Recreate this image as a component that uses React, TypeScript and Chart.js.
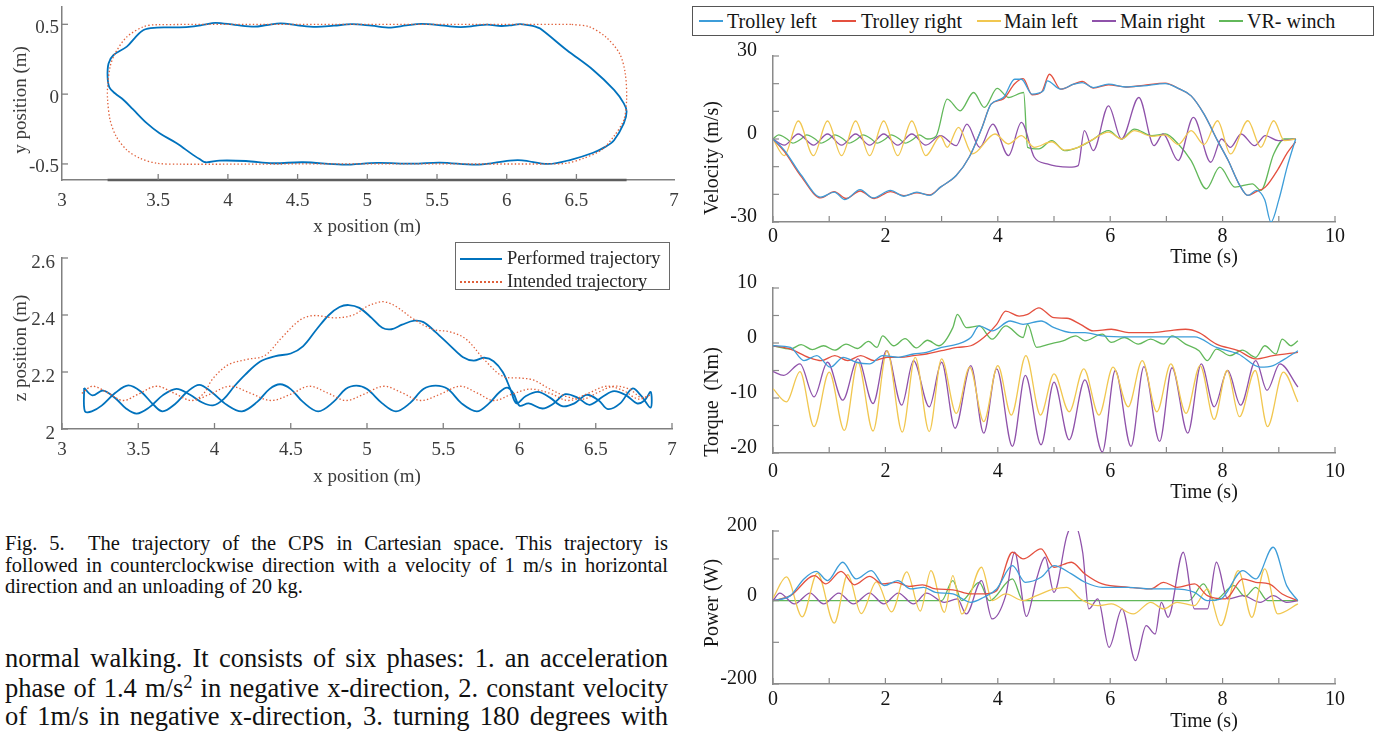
import React, { useEffect, useRef } from 'react';
import { Chart, registerables } from 'chart.js';

Chart.register(...registerables);

type Pt = [number, number];

// ---------------- x–y trajectory (top left) ----------------
const xyPerformed: Pt[] = [
  [6.2, 0.485], [6.1, 0.502], [6.02, 0.492], [5.96, 0.488], [5.86, 0.498], [5.78, 0.49], [5.67, 0.48],
  [5.55, 0.49], [5.39, 0.503], [5.28, 0.492], [5.17, 0.477], [5.03, 0.49], [4.89, 0.501], [4.76, 0.49],
  [4.63, 0.482], [4.5, 0.493], [4.38, 0.507], [4.28, 0.495], [4.19, 0.483], [4.05, 0.496], [3.91, 0.511],
  [3.83, 0.497], [3.72, 0.482], [3.58, 0.478], [3.49, 0.476], [3.395, 0.459], [3.33, 0.4], [3.275, 0.34],
  [3.18, 0.28], [3.144, 0.22], [3.137, 0.125], [3.15, 0.049], [3.19, 0.006], [3.25, -0.04], [3.32, -0.11],
  [3.42, -0.21], [3.51, -0.28], [3.63, -0.35], [3.75, -0.435], [3.8, -0.467], [3.84, -0.488], [3.94, -0.476],
  [4.13, -0.479], [4.32, -0.495], [4.54, -0.488], [4.82, -0.505], [5.07, -0.493], [5.33, -0.498],
  [5.52, -0.49], [5.8, -0.505], [6.02, -0.476], [6.11, -0.474], [6.3, -0.5], [6.46, -0.47], [6.62, -0.42],
  [6.71, -0.376], [6.77, -0.33], [6.84, -0.21], [6.86, -0.125], [6.84, -0.066], [6.77, 0.03], [6.62, 0.173],
  [6.43, 0.316], [6.24, 0.47], [6.2, 0.485],
];
const xyIntended: Pt[] = [
  [6.46, 0.5], [5.5, 0.5], [4.5, 0.5], [3.49, 0.497], [3.395, 0.483], [3.275, 0.41], [3.19, 0.29],
  [3.155, 0.196], [3.137, 0.053], [3.137, -0.04], [3.155, -0.185], [3.2, -0.305], [3.275, -0.4],
  [3.37, -0.46], [3.49, -0.495], [3.66, -0.502], [4.5, -0.5], [5.5, -0.5], [6.3, -0.5], [6.43, -0.495],
  [6.55, -0.46], [6.68, -0.4], [6.77, -0.3], [6.84, -0.185], [6.86, -0.04], [6.85, 0.15], [6.81, 0.29],
  [6.71, 0.41], [6.59, 0.483], [6.46, 0.5],
];
const xyXRange: Pt = [2.81, 7.2];
const xyYRange: Pt = [-0.615, 0.624];
const xyXTicks = [2.81, 3.5, 4, 4.5, 5, 5.5, 6, 6.5, 7.2];
const xyXLabels = ['3', '3.5', '4', '4.5', '5', '5.5', '6', '6.5', '7'];
const xyYTicks = [-0.5, 0, 0.5];
const xyYLabels = ['-0.5', '0', '0.5'];

// ---------------- x–z trajectory (bottom left) ----------------
const xzPerformedHumpPass: Pt[] = [
  [3.145, 2.144], [3.2, 2.118], [3.27, 2.135], [3.35, 2.108], [3.42, 2.072], [3.49, 2.054], [3.57, 2.075],
  [3.66, 2.118], [3.75, 2.141], [3.84, 2.12], [3.92, 2.093], [3.99, 2.083], [4.06, 2.105], [4.13, 2.15],
  [4.2, 2.19], [4.3, 2.237], [4.4, 2.256], [4.5, 2.265], [4.58, 2.29], [4.67, 2.35], [4.75, 2.4],
  [4.82, 2.428], [4.88, 2.435], [4.95, 2.425], [5.03, 2.39], [5.1, 2.355], [5.16, 2.35], [5.23, 2.366],
  [5.31, 2.38], [5.37, 2.375], [5.45, 2.34], [5.55, 2.29], [5.63, 2.252], [5.7, 2.24], [5.77, 2.25],
  [5.83, 2.238], [5.89, 2.2], [5.94, 2.14], [5.98, 2.09], [6.04, 2.115], [6.12, 2.13], [6.2, 2.11],
  [6.28, 2.08], [6.36, 2.09], [6.44, 2.12], [6.52, 2.1], [6.58, 2.07], [6.66, 2.09], [6.74, 2.142],
  [6.8, 2.115], [6.86, 2.075],
];
const xzPerformedFlatPass: Pt[] = [
  [3.15, 2.062], [3.195, 2.062], [3.26, 2.082], [3.35, 2.127], [3.435, 2.153], [3.52, 2.13], [3.6, 2.085],
  [3.66, 2.062], [3.74, 2.087], [3.82, 2.13], [3.9, 2.155], [3.98, 2.13], [4.08, 2.085], [4.18, 2.062],
  [4.28, 2.095], [4.36, 2.14], [4.43, 2.157], [4.5, 2.14], [4.58, 2.095], [4.68, 2.062], [4.78, 2.095],
  [4.86, 2.14], [4.93, 2.152], [5.0, 2.14], [5.1, 2.09], [5.19, 2.062], [5.28, 2.09], [5.37, 2.14],
  [5.45, 2.152], [5.53, 2.14], [5.62, 2.09], [5.72, 2.062], [5.8, 2.09], [5.87, 2.13], [5.92, 2.145],
  [5.96, 2.125], [6.0, 2.082], [6.06, 2.09], [6.15, 2.072], [6.22, 2.088], [6.3, 2.122], [6.38, 2.11],
  [6.46, 2.085], [6.55, 2.115], [6.62, 2.133], [6.7, 2.118], [6.77, 2.09], [6.82, 2.1], [6.86, 2.13],
];
const xzIntendedHumpPass: Pt[] = [
  [3.13, 2.125], [3.2, 2.15], [3.3, 2.127], [3.4, 2.1], [3.5, 2.122], [3.62, 2.15], [3.73, 2.127],
  [3.85, 2.1], [3.93, 2.125], [3.98, 2.17], [4.04, 2.205], [4.1, 2.228], [4.21, 2.244], [4.33, 2.258],
  [4.44, 2.32], [4.56, 2.382], [4.65, 2.398], [4.79, 2.39], [4.91, 2.4], [5.0, 2.43], [5.07, 2.444],
  [5.12, 2.446], [5.19, 2.43], [5.31, 2.384], [5.43, 2.35], [5.55, 2.34], [5.65, 2.315], [5.77, 2.243],
  [5.89, 2.185], [6.0, 2.179], [6.09, 2.172], [6.2, 2.14], [6.32, 2.112], [6.42, 2.105], [6.52, 2.13],
  [6.62, 2.15], [6.72, 2.14], [6.8, 2.11], [6.86, 2.12],
];
const xzIntendedFlatPass: Pt[] = [
  [3.13, 2.125], [3.2, 2.15], [3.3, 2.127], [3.4, 2.1], [3.5, 2.122], [3.62, 2.15], [3.73, 2.127],
  [3.85, 2.1], [3.97, 2.122], [4.1, 2.15], [4.23, 2.127], [4.37, 2.1], [4.5, 2.122], [4.62, 2.15],
  [4.74, 2.127], [4.86, 2.1], [4.98, 2.122], [5.11, 2.15], [5.23, 2.127], [5.35, 2.1], [5.48, 2.122],
  [5.61, 2.15], [5.72, 2.127], [5.83, 2.1], [5.95, 2.122], [6.07, 2.14], [6.2, 2.125], [6.32, 2.1],
  [6.45, 2.125], [6.57, 2.15], [6.68, 2.135], [6.78, 2.105], [6.86, 2.12],
];
const xzXTicks = [3, 3.5, 4, 4.5, 5, 5.5, 6, 6.5, 7];
const xzXLabels = ['3', '3.5', '4', '4.5', '5', '5.5', '6', '6.5', '7'];
const xzYTicks = [2, 2.2, 2.4, 2.6];
const xzYLabels = ['2', '2.2', '2.4', '2.6'];
const trajectoryNames = ['Performed trajectory', 'Intended trajectory'];

// ---------------- winch time series (right column) ----------------
const seriesNames = ['Trolley left', 'Trolley right', 'Main left', 'Main right', 'VR- winch'];
const seriesColors = ['#3d9dd9', '#e4503f', '#f1c750', '#8f52aa', '#62b85a'];
const timeTicks = [0, 1, 2, 3, 4, 5, 6, 7, 8, 9, 10];
const timeLabels = ['0', '', '2', '', '4', '', '6', '', '8', '', '10'];

const velTrolleyLeft: Pt[] = [
  [0, 0], [0.2, -4], [0.5, -13], [0.85, -21], [1.09, -19.2], [1.28, -21.9], [1.55, -18.3], [1.78, -21.3],
  [2.09, -18.6], [2.33, -20.7], [2.56, -19.2], [2.79, -20.4], [2.98, -17.4], [3.26, -13.2], [3.49, -6.6],
  [3.72, 4.2], [3.88, 12.6], [4.1, 15], [4.3, 21.6], [4.42, 21.6], [4.61, 16.2], [4.81, 17.4], [4.88, 21],
  [5.12, 18], [5.35, 19.8], [5.5, 20.4], [5.7, 18.6], [5.97, 19.8], [6.28, 18.8], [6.59, 19.2], [6.98, 20],
  [7.21, 18.3], [7.44, 15.6], [7.67, 9], [7.91, -0.6], [8.1, -7.8], [8.29, -16.2], [8.45, -20.4],
  [8.6, -18.6], [8.75, -22], [8.86, -30], [9.0, -22], [9.15, -10], [9.3, 0],
];
const velTrolleyRight: Pt[] = [
  [0, 0], [0.2, -4.5], [0.5, -13.5], [0.85, -21.3], [1.09, -19], [1.3, -21.5], [1.55, -18.8], [1.8, -21.5],
  [2.09, -19], [2.33, -20.5], [2.56, -19.5], [2.79, -20.2], [2.98, -17.4], [3.26, -13.2], [3.49, -6.6],
  [3.72, 4.2], [3.88, 12.6], [4.1, 14.5], [4.3, 20], [4.45, 21.8], [4.61, 16], [4.78, 17], [4.92, 23.4],
  [5.12, 18], [5.35, 19.8], [5.5, 20.8], [5.7, 18.4], [5.97, 19.6], [6.28, 18.8], [6.59, 19.4], [6.98, 20.2],
  [7.21, 18.3], [7.44, 15.6], [7.67, 9], [7.91, -0.6], [8.1, -7.8], [8.29, -16.2], [8.45, -20.4],
  [8.6, -19], [8.76, -17.4], [8.99, -10.8], [9.15, -5], [9.3, -1],
];
const velMainLeft: Pt[] = [
  [0, 0], [0.2, -6], [0.45, 6.5], [0.72, -6], [0.97, 6.5], [1.22, -6], [1.47, 6.5], [1.72, -6], [1.97, 6.5],
  [2.22, -6], [2.47, 6.5], [2.72, -6], [2.98, 1], [3.1, -3], [3.3, 4.2], [3.55, -5.4], [3.95, 1.8],
  [4.19, -1.8], [4.42, 1.2], [4.65, -3], [4.96, -1], [5.19, -4], [5.43, -3], [5.66, -0.5], [5.97, 2.5],
  [6.2, 0], [6.43, 3], [6.74, 1], [6.98, 1.5], [7.21, -2], [7.44, 3], [7.67, -2], [7.91, 6.6], [8.14, -5.4],
  [8.45, 6.6], [8.68, -3], [8.91, 6.6], [9.1, -0.6], [9.3, 0],
];
const velMainRight: Pt[] = [
  [0, 0], [0.2, -2.2], [0.45, 1.8], [0.72, -2.2], [0.97, 1.8], [1.22, -2.2], [1.47, 1.8], [1.72, -2.2],
  [1.97, 1.8], [2.22, -2.2], [2.47, 1.8], [2.72, -2.2], [2.98, 1.2], [3.26, -2.4], [3.45, 5.4], [3.68, -3],
  [3.91, 5.4], [4.19, -6], [4.42, 6], [4.65, -6.6], [4.88, -9], [5.04, -9.8], [5.27, -10.2], [5.43, -9.6],
  [5.54, 3], [5.7, -4.2], [5.97, 12], [6.2, 0], [6.51, 15], [6.78, -2.4], [6.94, 1.8], [7.21, -7.8],
  [7.48, 7.8], [7.79, -8.4], [7.98, 0], [8.14, -3], [8.33, 1.8], [8.57, -2.4], [8.76, 1.2], [8.99, -0.6],
  [9.3, 0],
];
const velWinch: Pt[] = [
  [0, 0], [0.1, 1.5], [0.25, 0], [0.35, -1.5], [0.5, 0], [0.6, 1.5], [0.75, 0], [0.85, -1.5], [1.0, 0],
  [1.1, 1.5], [1.25, 0], [1.35, -1.5], [1.5, 0], [1.6, 1.5], [1.75, 0], [1.85, -1.5], [2.0, 0], [2.1, 1.5],
  [2.25, 0], [2.35, -1.5], [2.5, 0], [2.6, 1.5], [2.75, 0], [2.9, 1], [3.1, 14.4], [3.33, 10.2],
  [3.57, 16.8], [3.76, 11.4], [3.99, 18.3], [4.19, 15], [4.46, 16.8], [4.53, -3], [4.73, -3.6],
  [4.96, -0.6], [5.19, -4.2], [5.43, -3], [5.66, -0.6], [5.97, 3], [6.2, 0], [6.43, 3.6], [6.74, 1.2],
  [6.98, 1.8], [7.21, -1.8], [7.44, -7.8], [7.71, -18], [7.95, -10.2], [8.22, -17.4], [8.53, -16.2],
  [8.68, -18.6], [8.91, -5.4], [9.1, 0], [9.3, 0],
];
const velocityTicks = [-30, -20, -10, 0, 10, 20, 30];
const velocityLabels = ['-30', '', '', '0', '', '', '30'];

const torTrolleyLeft: Pt[] = [
  [0, -0.5], [0.31, -0.8], [0.55, -3.2], [0.78, -2.3], [1.02, -4.4], [1.25, -2.6], [1.48, -3.5],
  [1.72, -3.8], [1.95, -2.3], [2.23, -2.6], [2.5, -2], [2.73, -1.7], [3.0, -0.8], [3.28, -0.2], [3.52, 1],
  [3.67, 3.1], [3.9, 2.2], [4.22, 4], [4.45, 3.4], [4.77, 4], [5.0, 2.8], [5.31, 1.9], [5.55, 1.9],
  [5.86, 1.3], [6.33, 1.1], [6.72, 1.1], [7.1, 1.1], [7.5, 1.1], [7.89, -0.8], [8.28, -2], [8.67, -4.4],
  [8.9, -4.1], [9.06, -3.2], [9.34, -1.4],
];
const torTrolleyRight: Pt[] = [
  [0, -0.5], [0.31, -1.1], [0.63, -2.6], [0.86, -3.2], [1.1, -2.3], [1.33, -3.2], [1.56, -2.3], [1.8, -3.2],
  [2.03, -2.6], [2.27, -2.6], [2.5, -2.3], [2.73, -2], [3.0, -1.4], [3.28, -0.8], [3.52, -0.5], [3.75, 1],
  [3.98, 3.4], [4.14, 5.8], [4.38, 4.9], [4.53, 5.2], [4.73, 6.4], [5.0, 4.6], [5.23, 4.5], [5.47, 3.4],
  [5.7, 2.2], [6.02, 2.5], [6.33, 1.9], [6.72, 1.9], [7.03, 2.2], [7.34, 2.5], [7.58, 1.9], [7.89, -0.2],
  [8.28, -1.4], [8.59, -2.9], [8.9, -2.3], [9.34, -1.7],
];
const torMainLeft: Pt[] = [
  [0, -8.3], [0.24, -10.7], [0.48, -5.2], [0.73, -15.2], [1.0, -5.3], [1.27, -15.9], [1.51, -3.5],
  [1.78, -16], [2.03, -1.4], [2.3, -16.2], [2.53, -2.6], [2.78, -16.1], [3.0, -2.9], [3.26, -12.8],
  [3.5, -4.4], [3.75, -14.3], [4.0, -4.1], [4.24, -13.1], [4.5, -2.3], [4.76, -13.1], [5.0, -5.6],
  [5.27, -12.5], [5.53, -4.7], [5.8, -13.1], [6.05, -4.4], [6.32, -11.6], [6.57, -3.2], [6.83, -12.5],
  [7.08, -3.8], [7.35, -12.8], [7.6, -4.1], [7.85, -13.9], [8.08, -5], [8.3, -13.4], [8.58, -5],
  [8.8, -15.2], [9.08, -5.3], [9.34, -10.7],
];
const torMainRight: Pt[] = [
  [0, -5.2], [0.19, -5.9], [0.48, -3.8], [0.73, -9.8], [0.97, -3.5], [1.24, -10.4], [1.51, -2.9],
  [1.78, -11], [2.02, -1.4], [2.29, -11.3], [2.5, -3.2], [2.78, -11.6], [3.0, -3.5], [3.24, -15.5],
  [3.52, -4.1], [3.75, -16.4], [3.98, -4.7], [4.26, -18.8], [4.49, -5.9], [4.77, -18.5], [5.0, -7.1],
  [5.27, -17.6], [5.55, -6.7], [5.86, -19.8], [6.09, -5], [6.37, -18.8], [6.6, -4.3], [6.88, -17.9],
  [7.1, -4.5], [7.38, -16.4], [7.62, -3.8], [7.85, -11.6], [8.09, -5], [8.32, -11.3], [8.59, -3.2],
  [8.79, -8.6], [9.02, -3.8], [9.34, -8],
];
const torWinch: Pt[] = [
  [0, -0.5], [0.31, -1.1], [0.5, -0.3], [0.7, -1.2], [0.9, -0.5], [1.1, -1.3], [1.3, -0.2], [1.5, -1],
  [1.7, 0.3], [1.85, -0.8], [1.95, 1.3], [2.15, -0.5], [2.35, 0.8], [2.55, -0.9], [2.75, 0.5], [2.95, -0.5],
  [3.2, 2.8], [3.28, 5.2], [3.44, 2.8], [3.67, 3.1], [3.9, 0.7], [4.14, 3.1], [4.45, 1], [4.53, 3.4],
  [4.69, -0.8], [4.92, -0.2], [5.16, 0.4], [5.39, 1.3], [5.55, 0.4], [5.86, 1.6], [6.02, 0.1], [6.25, 1],
  [6.5, -0.2], [6.72, 0.7], [6.95, -0.2], [7.1, 1.3], [7.34, -0.2], [7.58, -1.4], [7.73, -3.2],
  [7.89, -1.1], [8.13, -2.3], [8.35, -1.3], [8.59, -2.6], [8.75, -0.5], [8.95, -2], [9.06, 0.7],
  [9.22, -0.5], [9.34, 0.4],
];
const torqueTicks = [-20, -15, -10, -5, 0, 5, 10];
const torqueLabels = ['-20', '', '-10', '', '0', '', '10'];

const powTrolleyLeft: Pt[] = [
  [0, 0], [0.31, 12], [0.55, 52], [0.77, 70], [0.97, 48], [1.24, 92], [1.48, 52], [1.75, 72], [1.98, 36],
  [2.22, 48], [2.45, 28], [2.68, 32], [2.89, 20], [3.2, 16], [3.52, -4], [3.75, 8], [3.98, 28], [4.26, 84],
  [4.49, 44], [4.77, 56], [5.0, 84], [5.31, 64], [5.55, 44], [5.86, 32], [6.33, 32], [6.72, 28], [7.1, 28],
  [7.5, 20], [7.73, 0], [7.97, 4], [8.36, 72], [8.59, 52], [8.9, 128], [9.14, 36], [9.34, 0],
];
const powTrolleyRight: Pt[] = [
  [0, 0], [0.31, 12], [0.74, 60], [0.94, 40], [1.21, 70], [1.45, 38], [1.72, 58], [1.95, 40], [2.19, 44],
  [2.42, 34], [2.66, 38], [2.89, 28], [3.2, 26], [3.52, 16], [3.75, 16], [3.98, 24], [4.26, 116],
  [4.45, 100], [4.77, 124], [5.0, 80], [5.31, 92], [5.55, 64], [5.86, 40], [6.33, 32], [6.72, 28],
  [6.95, 44], [7.19, 32], [7.5, 40], [7.73, 12], [8.05, 4], [8.36, 52], [8.59, 44], [8.83, 40], [9.06, 16],
  [9.34, 0],
];
const powMainLeft: Pt[] = [
  [0, 6], [0.24, 57], [0.52, -39], [0.79, 66], [1.09, -54], [1.33, 62], [1.57, -31], [1.84, 45],
  [2.11, -27], [2.38, 69], [2.62, -25], [2.81, 72], [3.05, -28], [3.2, 60], [3.36, -32], [3.71, 80],
  [3.9, 0], [4.14, 16], [4.45, 0], [4.69, 12], [5.0, 28], [5.23, 32], [5.47, 4], [5.78, -12], [6.02, -8],
  [6.41, -32], [6.72, -4], [6.95, -20], [7.19, -4], [7.5, -12], [7.73, 28], [7.97, -60], [8.28, 72],
  [8.52, -40], [8.75, 76], [8.98, -32], [9.34, -8],
];
const powMainRight: Pt[] = [
  [0, 0], [0.12, 18], [0.38, -8], [0.66, 18], [0.9, -8], [1.17, 18], [1.43, -8], [1.72, 18], [1.97, -8],
  [2.23, 18], [2.5, -8], [2.73, 18], [3.05, -4], [3.28, 4], [3.44, -32], [3.71, 48], [3.9, -44],
  [4.14, 12], [4.3, 116], [4.51, -38], [4.69, 52], [4.84, 104], [5.0, 20], [5.23, 156], [5.35, 185],
  [5.51, 116], [5.62, -20], [5.78, 4], [5.98, -112], [6.21, -20], [6.45, -144], [6.64, -60], [6.8, -80],
  [6.91, -4], [7.03, -40], [7.3, 116], [7.5, -20], [7.73, -20], [7.89, 92], [8.09, 4], [8.36, 12],
  [8.67, -4], [8.9, 12], [9.14, -4], [9.34, 0],
];
const powWinch: Pt[] = [
  [0, 0], [3.0, 0], [3.2, 48], [3.36, 0], [3.67, 44], [3.85, 0], [4.26, 52], [4.45, 0], [7.4, 0],
  [7.66, 40], [7.85, 0], [8.2, 36], [8.4, 10], [8.59, 32], [8.8, 0], [9.34, 0],
];
const powerTicks = [-200, -100, 0, 100, 167];
const powerLabels = ['-200', '', '0', '', '200'];

// ---------------- helpers ----------------
const FONT = '"Liberation Serif", "Times New Roman", serif';
const toXY = (a: Pt[]) => a.map(([x, y]) => ({ x, y }));
const loop = (a: Pt[], b: Pt[]): Pt[] => [...a, ...b.slice().reverse(), a[0]];

const inwardTicks = {
  id: 'inwardTicks',
  afterDraw(chart: any, _args: any, opts: any) {
    const { ctx, chartArea, scales } = chart;
    const len = opts.length ?? 6;
    ctx.save();
    ctx.strokeStyle = opts.color ?? '#777';
    ctx.lineWidth = opts.width ?? 1.2;
    const xs = scales.x;
    const ys = scales.y;
    xs.ticks.forEach((t: any, i: number) => {
      if (opts.skipXEnds && (i === 0 || i === xs.ticks.length - 1)) return;
      const p = xs.getPixelForValue(t.value);
      ctx.beginPath();
      ctx.moveTo(p, chartArea.bottom);
      ctx.lineTo(p, chartArea.bottom - len);
      ctx.stroke();
    });
    ys.ticks.forEach((t: any) => {
      const p = ys.getPixelForValue(t.value);
      ctx.beginPath();
      ctx.moveTo(chartArea.left, p);
      ctx.lineTo(chartArea.left + len, p);
      ctx.stroke();
    });
    ctx.restore();
  },
};

type AxisOpt = {
  min: number; max: number; ticks: number[]; labels: string[]; size: number; horizontal: boolean;
  padding: number; color: string; border: string; offset?: number; fontSize: number;
};
function axis(o: AxisOpt) {
  return {
    type: 'linear',
    min: o.min,
    max: o.max,
    afterBuildTicks: (s: any) => { s.ticks = o.ticks.map((v) => ({ value: v })); },
    afterFit: (s: any) => {
      if (o.horizontal) { s.height = o.size; s.paddingLeft = 0; s.paddingRight = 0; }
      else { s.width = o.size; s.paddingTop = 0; s.paddingBottom = 0; }
    },
    grid: { display: true, drawOnChartArea: false, drawTicks: false },
    border: { display: true, color: o.border, width: 1.5 },
    ticks: {
      autoSkip: false, maxRotation: 0, minRotation: 0, padding: o.padding, color: o.color,
      labelOffset: o.offset ?? 0,
      font: { family: FONT, size: o.fontSize },
      callback: (_v: any, i: number) => o.labels[i] ?? '',
    },
  };
}

function baseOptions(scales: any, padTop: number, padRight: number, tickOpts: any) {
  return {
    responsive: false,
    animation: false,
    events: [],
    layout: { padding: { left: 0, top: padTop, right: padRight, bottom: 0 } },
    plugins: { legend: { display: false }, tooltip: { enabled: false }, inwardTicks: tickOpts },
    scales,
  };
}

type Box = { x: number; y: number; w: number; h: number };
function ChartCanvas({ box, make }: { box: Box; make: () => any }) {
  const ref = useRef<HTMLCanvasElement | null>(null);
  useEffect(() => {
    if (!ref.current) return;
    const chart = new Chart(ref.current, make());
    return () => chart.destroy();
  }, []);
  return (
    <canvas ref={ref} width={box.w} height={box.h}
      style={{ position: 'absolute', left: box.x, top: box.y, width: box.w, height: box.h }} />
  );
}

// ---------------- chart configs ----------------
const LEFT_TEXT = '#3c3c3c';
const LEFT_AXIS = '#808080';
const BLUE = '#0072BD';
const ORANGE = '#E0603A';
const LEFT_FONT = 19;
const RIGHT_FONT = 20;

function makeXY() {
  const xs = xyIntended.map((p) => p[0]);
  const floor = [{ x: Math.min(...xs), y: xyYRange[0] }, { x: Math.max(...xs), y: xyYRange[0] }];
  return {
    type: 'scatter',
    data: {
      datasets: [
        { data: toXY(xyIntended), showLine: true, borderColor: ORANGE, borderWidth: 1.3, borderDash: [1.4, 2.2], pointRadius: 0, tension: 0.3 },
        { data: toXY(xyPerformed), showLine: true, borderColor: BLUE, borderWidth: 1.8, pointRadius: 0, tension: 0.35 },
        { data: floor, showLine: true, borderColor: '#5e5e5e', borderWidth: 2.5, pointRadius: 0, clip: false },
      ],
    },
    options: baseOptions({
      x: axis({ min: xyXRange[0], max: xyXRange[1], ticks: xyXTicks, labels: xyXLabels, size: 40, horizontal: true, padding: 10, color: LEFT_TEXT, border: LEFT_AXIS, fontSize: LEFT_FONT }),
      y: axis({ min: xyYRange[0], max: xyYRange[1], ticks: xyYTicks, labels: xyYLabels, size: 62, horizontal: false, padding: 3, color: LEFT_TEXT, border: LEFT_AXIS, offset: 3.5, fontSize: LEFT_FONT }),
    }, 20, 20, { color: LEFT_AXIS, length: 6, width: 1.3, skipXEnds: true }),
    plugins: [inwardTicks],
  };
}

function makeXZ() {
  return {
    type: 'scatter',
    data: {
      datasets: [
        { data: toXY(loop(xzIntendedHumpPass, xzIntendedFlatPass)), showLine: true, borderColor: ORANGE, borderWidth: 1.3, borderDash: [1.4, 2.2], pointRadius: 0, tension: 0.35 },
        { data: toXY(loop(xzPerformedHumpPass, xzPerformedFlatPass)), showLine: true, borderColor: BLUE, borderWidth: 1.8, pointRadius: 0, tension: 0.35 },
      ],
    },
    options: baseOptions({
      x: axis({ min: 3, max: 7, ticks: xzXTicks, labels: xzXLabels, size: 40, horizontal: true, padding: 10, color: LEFT_TEXT, border: LEFT_AXIS, fontSize: LEFT_FONT }),
      y: axis({ min: 2, max: 2.6, ticks: xzYTicks, labels: xzYLabels, size: 62, horizontal: false, padding: 7, color: LEFT_TEXT, border: LEFT_AXIS, offset: 5.5, fontSize: LEFT_FONT }),
    }, 20, 20, { color: LEFT_AXIS, length: 6, width: 1.3 }),
    plugins: [inwardTicks],
  };
}

const RIGHT_TEXT = '#151515';
const RIGHT_AXIS = '#8a8a8a';

function makeSeries(series: Pt[][], min: number, max: number, yTicks: number[], yLabels: string[], xPad: number) {
  return {
    type: 'line',
    data: {
      datasets: series.map((s, i) => ({
        data: toXY(s), borderColor: seriesColors[i], borderWidth: 1.3, pointRadius: 0,
        cubicInterpolationMode: 'monotone', fill: false,
      })),
    },
    options: baseOptions({
      x: axis({ min: 0, max: 10, ticks: timeTicks, labels: timeLabels, size: 32, horizontal: true, padding: xPad, color: RIGHT_TEXT, border: RIGHT_AXIS, fontSize: RIGHT_FONT }),
      y: axis({ min, max, ticks: yTicks, labels: yLabels, size: 60, horizontal: false, padding: 16, color: RIGHT_TEXT, border: RIGHT_AXIS, offset: -5, fontSize: RIGHT_FONT }),
    }, 25, 25, { color: RIGHT_AXIS, length: 6, width: 1.2 }),
    plugins: [inwardTicks],
  };
}

const velocitySeries = [velTrolleyLeft, velTrolleyRight, velMainLeft, velMainRight, velWinch];
const torqueSeries = [torTrolleyLeft, torTrolleyRight, torMainLeft, torMainRight, torWinch];
const powerSeries = [powTrolleyLeft, powTrolleyRight, powMainLeft, powMainRight, powWinch];

// ---------------- page ----------------
const abs = (extra: React.CSSProperties): React.CSSProperties => ({ position: 'absolute', whiteSpace: 'nowrap', ...extra });

function VTitle({ text, cx, cy, color, size }: { text: string; cx: number; cy: number; color: string; size: number }) {
  return (
    <div style={abs({ left: cx, top: cy, transform: 'translate(-50%, -50%) rotate(-90deg)', fontSize: size, lineHeight: '22px', color, whiteSpace: 'pre' })}>{text}</div>
  );
}
function HTitle({ text, cx, cy, color, size }: { text: string; cx: number; cy: number; color: string; size: number }) {
  return <div style={abs({ left: cx, top: cy, transform: 'translate(-50%, -50%)', fontSize: size, lineHeight: '22px', color })}>{text}</div>;
}

const legendLineX = [699, 832, 977, 1092, 1219];
const legendTextX = [727, 861, 1004, 1120, 1247];

export default function App() {
  const capStyle = (top: number, last = false): React.CSSProperties => abs({
    left: 5, top, width: 663, fontSize: 20.5, lineHeight: '21.5px', color: '#111',
    textAlign: last ? 'left' : 'justify', textAlignLast: last ? 'left' : 'justify',
  } as React.CSSProperties);
  const bodyStyle = (top: number): React.CSSProperties => abs({
    left: 5, top, width: 663, fontSize: 26.5, lineHeight: '29px', color: '#111',
    textAlign: 'justify', textAlignLast: 'justify',
  } as React.CSSProperties);

  return (
    <div style={{ position: 'absolute', left: 0, top: 0, width: 1383, height: 735, background: '#fff', overflow: 'hidden', fontFamily: FONT }}>
      <ChartCanvas box={{ x: 0, y: -13, w: 694, h: 233 }} make={makeXY} />
      <ChartCanvas box={{ x: 0, y: 238, w: 692, h: 231 }} make={makeXZ} />
      <ChartCanvas box={{ x: 713, y: 31, w: 647, h: 223 }} make={() => makeSeries(velocitySeries, -30, 30, velocityTicks, velocityLabels, 2.5)} />
      <ChartCanvas box={{ x: 713, y: 263, w: 647, h: 222 }} make={() => makeSeries(torqueSeries, -20, 10, torqueTicks, torqueLabels, 6.5)} />
      <ChartCanvas box={{ x: 713, y: 506, w: 647, h: 210 }} make={() => makeSeries(powerSeries, -200, 167, powerTicks, powerLabels, 4)} />

      <VTitle text="y position (m)" cx={20} cy={100} color={LEFT_TEXT} size={LEFT_FONT} />
      <HTitle text="x position (m)" cx={367} cy={226} color={LEFT_TEXT} size={LEFT_FONT} />
      <VTitle text="z position (m)" cx={20} cy={348} color={LEFT_TEXT} size={LEFT_FONT} />
      <HTitle text="x position (m)" cx={367} cy={476} color={LEFT_TEXT} size={LEFT_FONT} />

      <div style={abs({ left: 455, top: 242, width: 215, height: 48, border: '1px solid #6a6a6a', boxSizing: 'border-box', background: '#fff' })}>
        <div style={abs({ left: 4, top: 15, width: 42, borderTop: `2px solid ${BLUE}` })} />
        <div style={abs({ left: 51, top: 5, fontSize: 18.5, lineHeight: '20px', color: '#262626' })}>{trajectoryNames[0]}</div>
        <div style={abs({ left: 4, top: 38, width: 42, borderTop: `2px dotted ${ORANGE}` })} />
        <div style={abs({ left: 51, top: 28, fontSize: 18.5, lineHeight: '20px', color: '#262626' })}>{trajectoryNames[1]}</div>
      </div>

      <div style={abs({ left: 692, top: 6, width: 682, height: 30, border: '1.5px solid #555', boxSizing: 'border-box', background: '#fff' })} />
      {seriesNames.map((n, i) => (
        <React.Fragment key={n}>
          <div style={abs({ left: legendLineX[i], top: 20, width: 24, borderTop: `2px solid ${seriesColors[i]}` })} />
          <div style={abs({ left: legendTextX[i], top: 10, fontSize: RIGHT_FONT, lineHeight: '22px', color: RIGHT_TEXT })}>{n}</div>
        </React.Fragment>
      ))}

      <VTitle text="Velocity (m/s)" cx={711} cy={158} color={RIGHT_TEXT} size={RIGHT_FONT} />
      <VTitle text="Torque  (Nm)" cx={711} cy={402} color={RIGHT_TEXT} size={RIGHT_FONT} />
      <VTitle text="Power (W)" cx={711} cy={603} color={RIGHT_TEXT} size={RIGHT_FONT} />
      <HTitle text="Time (s)" cx={1204} cy={256} color={RIGHT_TEXT} size={RIGHT_FONT} />
      <HTitle text="Time (s)" cx={1204} cy={491} color={RIGHT_TEXT} size={RIGHT_FONT} />
      <HTitle text="Time (s)" cx={1204} cy={720} color={RIGHT_TEXT} size={RIGHT_FONT} />

      <div style={capStyle(533)}>Fig. 5.&nbsp; The trajectory of the CPS in Cartesian space. This trajectory is</div>
      <div style={capStyle(555)}>followed in counterclockwise direction with a velocity of 1 m/s in horizontal</div>
      <div style={capStyle(576, true)}>direction and an unloading of 20 kg.</div>

      <div style={bodyStyle(644)}>normal walking. It consists of six phases: 1. an acceleration</div>
      <div style={bodyStyle(674)}>phase of 1.4 m/s<sup style={{ fontSize: '0.7em', verticalAlign: '0.5em', lineHeight: 0 }}>2</sup> in negative x-direction, 2. constant velocity</div>
      <div style={bodyStyle(702)}>of 1m/s in negative x-direction, 3. turning 180 degrees with</div>
    </div>
  );
}
